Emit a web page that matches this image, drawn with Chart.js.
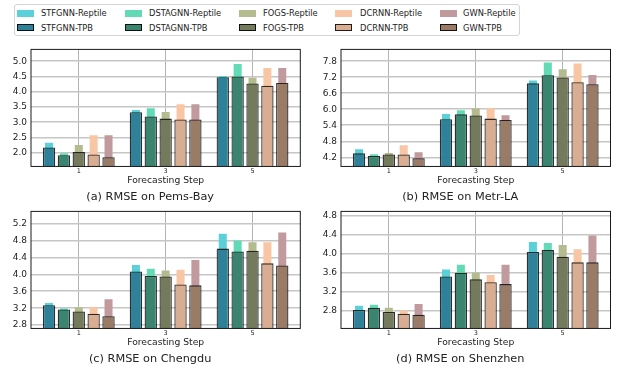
<!DOCTYPE html>
<html>
<head>
<meta charset="utf-8">
<script src="https://cdn.jsdelivr.net/npm/chart.js@4.4.0/dist/chart.umd.min.js"></script>
<style>
    body { margin: 0; background: #fff; width: 618px; height: 373px; overflow: hidden; position: relative; font-family: "DejaVu Sans", sans-serif; }
    canvas { position: absolute; }
    #legend { position: absolute; left: 14px; top: 4px; width: 504px; height: 30px; border: 1px solid #d4d4d4; border-radius: 3px; background: #fff; }
    .lbl { position: absolute; font-size: 8.3px; color: #222; line-height: 10px; white-space: nowrap; }
    .patch { position: absolute; width: 17px; height: 7px; box-sizing: border-box; }
</style>
</head>
<body>
<div id="legend"></div>
<canvas id="pemsBay" width="309" height="166" style="left:0px;top:40px"></canvas>
<canvas id="metrLa" width="308" height="166" style="left:310px;top:40px"></canvas>
<canvas id="chengdu" width="309" height="166" style="left:0px;top:202px"></canvas>
<canvas id="shenzhen" width="308" height="166" style="left:310px;top:202px"></canvas>
<script>
const models = ["STFGNN", "DSTAGNN", "FOGS", "DCRNN", "GWN"];
const steps = [1, 3, 5];

// one row per model, values for steps 1 / 3 / 5
const pemsBayReptile = [[2.33, 3.40, 4.52], [1.98, 3.46, 4.91], [2.25, 3.34, 4.46], [2.57, 3.59, 4.78], [2.57, 3.59, 4.78]];
const pemsBayTpb = [[2.17, 3.33, 4.48], [1.92, 3.19, 4.50], [2.02, 3.12, 4.27], [1.94, 3.09, 4.20], [1.85, 3.09, 4.29]];

const metrLaReptile = [[4.50, 5.82, 7.08], [4.32, 5.96, 7.75], [4.36, 6.04, 7.50], [4.65, 6.04, 7.71], [4.39, 5.78, 7.28]];
const metrLaTpb = [[4.35, 5.63, 6.97], [4.25, 5.81, 7.27], [4.31, 5.77, 7.19], [4.31, 5.65, 7.01], [4.17, 5.60, 6.94]];

const chengduReptile = [[3.32, 4.22, 4.96], [3.19, 4.13, 4.80], [3.22, 4.09, 4.76], [3.22, 4.11, 4.76], [3.41, 4.34, 4.99]];
const chengduTpb = [[3.27, 4.07, 4.61], [3.17, 3.96, 4.54], [3.12, 3.95, 4.56], [3.07, 3.76, 4.26], [3.01, 3.74, 4.21]];

const shenzhenReptile = [[2.90, 3.67, 4.25], [2.92, 3.77, 4.23], [2.86, 3.60, 4.19], [2.80, 3.55, 4.10], [2.94, 3.77, 4.39]];
const shenzhenTpb = [[2.81, 3.52, 4.04], [2.86, 3.60, 4.08], [2.77, 3.46, 3.94], [2.73, 3.40, 3.82], [2.71, 3.36, 3.82]];

const pemsBayTicks = [2.0, 2.5, 3.0, 3.5, 4.0, 4.5, 5.0];
const metrLaTicks = [4.2, 4.8, 5.4, 6.0, 6.6, 7.2, 7.8];
const chengduTicks = [2.8, 3.2, 3.6, 4.0, 4.4, 4.8, 5.2];
const shenzhenTicks = [2.8, 3.2, 3.6, 4.0, 4.4, 4.8];

const reptileColors = ["#5bd0d8", "#62dab6", "#b4bb8f", "#f8c6a4", "#c09a9d"];
const tpbColors = ["#2f8199", "#3b8570", "#747b5c", "#d9ad92", "#9a7b66"];

const FONT = "'DejaVu Sans', sans-serif";

// legend (shared by the four panels)
const legend = document.getElementById("legend");
const patchX = [17, 125, 239, 335, 440];
const textX = [41, 149, 263, 360, 463];
models.forEach((m, i) => {
    [["Reptile", reptileColors[i], 8], ["TPB", tpbColors[i], 22.6]].forEach(([kind, col, cy]) => {
        const p = document.createElement("div");
        p.className = "patch";
        p.style.left = (patchX[i] - 15) + "px";
        p.style.top = (cy - 3.5) + "px";
        p.style.background = col;
        if (kind === "TPB") p.style.border = "1px solid rgba(0,0,0,0.85)";
        legend.appendChild(p);
        const t = document.createElement("div");
        t.className = "lbl";
        t.style.left = (textX[i] - 15) + "px";
        t.style.top = (cy - 5) + "px";
        t.textContent = m + "-" + kind;
        legend.appendChild(t);
    });
});

const frame = {
    id: "frame",
    afterDatasetsDraw(chart) {
        const { ctx, chartArea: a } = chart;
        ctx.save();
        ctx.strokeStyle = "#1a1a1a";
        ctx.lineWidth = 1;
        ctx.strokeRect(a.left, a.top, a.right - a.left, a.bottom - a.top);
        ctx.restore();
    }
};

function drawPanel(id, caption, reptile, tpb, yMin, yMax, yTicks, padTop, padRight) {
    // Reptile and TPB of one model share a slot (same stack), Reptile narrower and behind
    const datasets = [];
    models.forEach((m, i) => {
        datasets.push({
            label: m + "-Reptile",
            data: reptile[i],
            stack: m,
            backgroundColor: reptileColors[i],
            borderWidth: 0,
            barPercentage: 0.54,
            categoryPercentage: 0.856,
            order: 2
        });
        datasets.push({
            label: m + "-TPB",
            data: tpb[i],
            stack: m,
            backgroundColor: tpbColors[i],
            borderColor: "rgba(10,10,10,0.85)",
            borderWidth: 1.3,
            barPercentage: 0.83,
            categoryPercentage: 0.856,
            order: 1
        });
    });

    new Chart(document.getElementById(id), {
        type: "bar",
        data: { labels: steps, datasets: datasets },
        options: {
            responsive: false,
            animation: false,
            events: [],
            layout: { padding: { top: padTop, right: padRight, left: 0, bottom: 0 } },
            plugins: {
                legend: { display: false },
                tooltip: { enabled: false },
                title: {
                    display: true,
                    position: "bottom",
                    text: caption,
                    color: "#222",
                    font: { family: FONT, size: 11.3, weight: "normal" },
                    padding: { top: 3, bottom: 2 }
                }
            },
            scales: {
                x: {
                    type: "linear",
                    min: -0.1,
                    max: 6.1,
                    offset: false,
                    afterBuildTicks: s => { s.ticks = steps.map(v => ({ value: v })); },
                    afterFit: s => { s.height = 21; },
                    grid: { color: "#b4b4b4", lineWidth: 1, drawTicks: false, offset: false },
                    border: { display: false },
                    ticks: { color: "#222", font: { family: FONT, size: 6.5 }, padding: 1, callback: v => String(v) },
                    title: {
                        display: true,
                        text: "Forecasting Step",
                        color: "#222",
                        font: { family: FONT, size: 9.2 },
                        padding: { top: 0, bottom: 1.2 }
                    }
                },
                y: {
                    stacked: false,
                    min: yMin,
                    max: yMax,
                    afterBuildTicks: s => { s.ticks = yTicks.map(v => ({ value: v })); },
                    afterFit: s => { s.width = 31; },
                    grid: { color: "#c6c6c6", lineWidth: 1.6, drawTicks: false },
                    border: { display: false },
                    ticks: { color: "#222", font: { family: FONT, size: 9 }, padding: 4, callback: v => v.toFixed(1) }
                }
            }
        },
        plugins: [frame]
    });
}

drawPanel("pemsBay", "(a) RMSE on Pems-Bay", pemsBayReptile, pemsBayTpb, 1.55, 5.39, pemsBayTicks, 6.7, 8.7);
drawPanel("metrLa", "(b) RMSE on Metr-LA", metrLaReptile, metrLaTpb, 3.86, 8.24, metrLaTicks, 6.7, 7.5);
drawPanel("chengdu", "(c) RMSE on Chengdu", chengduReptile, chengduTpb, 2.72, 5.49, chengduTicks, 6.3, 8.7);
drawPanel("shenzhen", "(d) RMSE on Shenzhen", shenzhenReptile, shenzhenTpb, 2.42, 4.90, shenzhenTicks, 6.3, 7.5);
</script>
</body>
</html>
